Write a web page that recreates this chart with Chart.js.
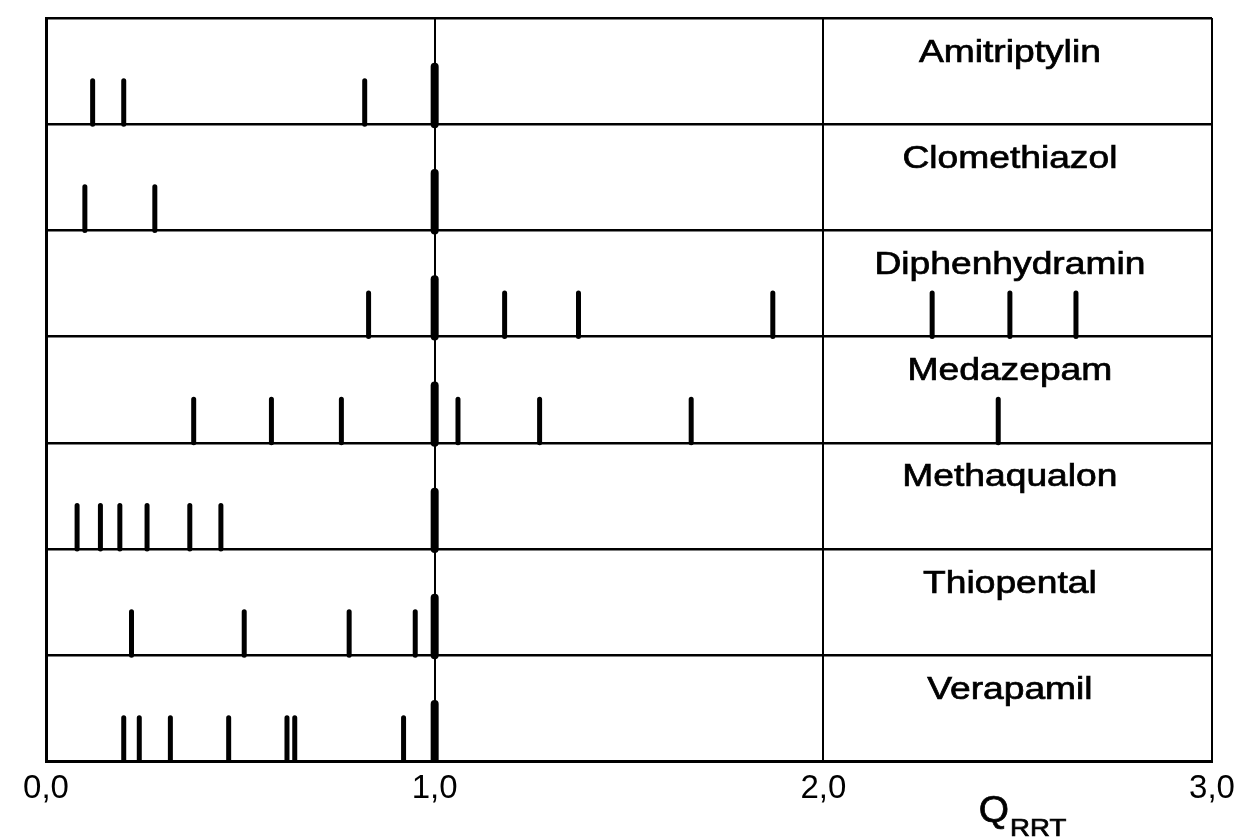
<!DOCTYPE html>
<html>
<head>
<meta charset="utf-8">
<script src="https://cdn.jsdelivr.net/npm/chart.js@4.4.1/dist/chart.umd.min.js"></script>
<style>
  html, body { margin: 0; padding: 0; background: #fff; }
  #wrap { width: 1234px; height: 838px; position: relative; }
</style>
</head>
<body>
<div id="wrap"><canvas id="chart"></canvas></div>
<script>
// substances, top row first
const drugs = ["Amitriptylin", "Clomethiazol", "Diphenhydramin", "Medazepam", "Methaqualon", "Thiopental", "Verapamil"]

// relative retention times (Q_RRT) of the peaks per substance
const amitriptylin = [0.12, 0.20, 0.82]
const clomethiazol = [0.10, 0.28]
const diphenhydramin = [0.83, 1.18, 1.37, 1.87, 2.28, 2.48, 2.65]
const medazepam = [0.38, 0.58, 0.76, 1.06, 1.27, 1.66, 2.45]
const methaqualon = [0.08, 0.14, 0.19, 0.26, 0.37, 0.45]
const thiopental = [0.22, 0.51, 0.78, 0.95]
const verapamil = [0.20, 0.24, 0.32, 0.47, 0.62, 0.64, 0.92]

// the reference peak, drawn thick in every row
const referencePeak = 1.0

const xTicks = [0, 1, 2, 3]
const axisTitle = ["Q", "RRT"]

const peaks = [amitriptylin, clomethiazol, diphenhydramin, medazepam, methaqualon, thiopental, verapamil]
const rows = drugs.length

// each peak is a short vertical segment standing on the row's base line
function segments(values, base, h) {
  return values.flatMap(v => [{ x: v, y: base }, { x: v, y: base + h }, { x: v, y: null }])
}

const datasets = []
peaks.forEach((vals, i) => {
  const base = rows - 1 - i
  datasets.push({
    data: segments(vals, base, 0.41),
    borderColor: "#000",
    borderWidth: 5,
    borderCapStyle: "round",
    pointRadius: 0
  })
  datasets.push({
    data: segments([referencePeak], base, 0.54),
    borderColor: "#000",
    borderWidth: 8,
    borderCapStyle: "round",
    pointRadius: 0
  })
})

const FONT = "'Liberation Sans', Arial, sans-serif"

// scanned print looks heavy, so fill and lightly stroke the text
function heavyText(ctx, text, x, y) {
  ctx.fillText(text, x, y)
  ctx.strokeText(text, x, y)
}

const labelsPlugin = {
  id: "rowLabels",
  afterDraw(chart) {
    const ctx = chart.ctx
    const x = chart.scales.x
    const y = chart.scales.y
    ctx.save()
    ctx.fillStyle = "#000"
    ctx.strokeStyle = "#000"
    ctx.lineWidth = 0.7
    drugs.forEach((name, i) => {
      ctx.save()
      ctx.translate(x.getPixelForValue(2.48), y.getPixelForValue(rows - i - 0.33))
      ctx.scale(1.2, 1)
      ctx.font = "31px " + FONT
      ctx.textAlign = "center"
      ctx.textBaseline = "middle"
      heavyText(ctx, name, 0, 0)
      ctx.restore()
    })

    // axis title Q with subscript RRT
    const qx = x.getPixelForValue(2.4)
    const by = chart.chartArea.bottom + 61
    ctx.save()
    ctx.translate(qx, by)
    ctx.scale(1.08, 1)
    ctx.font = "36px " + FONT
    ctx.textBaseline = "alphabetic"
    heavyText(ctx, axisTitle[0], 0, 0)
    const qw = ctx.measureText(axisTitle[0]).width
    ctx.restore()
    ctx.save()
    ctx.translate(qx + qw * 1.08 + 1, by + 14)
    ctx.scale(1.2, 1)
    ctx.font = "23px " + FONT
    heavyText(ctx, axisTitle[1], 0, 0)
    ctx.restore()
    ctx.restore()
  }
}

new Chart(document.getElementById("chart"), {
  type: "line",
  data: { datasets: datasets },
  options: {
    responsive: true,
    maintainAspectRatio: false,
    animation: false,
    layout: { padding: { left: 46, right: 0, top: 18, bottom: 21 } },
    plugins: {
      legend: { display: false },
      tooltip: { enabled: false }
    },
    scales: {
      x: {
        type: "linear",
        min: xTicks[0],
        max: xTicks[xTicks.length - 1],
        afterBuildTicks: s => { s.ticks = xTicks.map(v => ({ value: v })) },
        // the last label may touch the page edge, as in the print
        afterFit: s => { s.paddingRight = 22 },
        ticks: {
          color: "#000",
          padding: 8,
          maxRotation: 0,
          font: { family: FONT, size: 33 },
          callback: v => v.toFixed(1).replace(".", ",")
        },
        grid: { color: "#000", lineWidth: 2, drawTicks: false },
        border: { color: "#000", width: 3 }
      },
      y: {
        type: "linear",
        min: 0,
        max: rows,
        ticks: { display: false, stepSize: 1 },
        grid: { color: "#000", lineWidth: 2.5, drawTicks: false },
        border: { color: "#000", width: 3 }
      }
    }
  },
  plugins: [labelsPlugin]
})
</script>
</body>
</html>
